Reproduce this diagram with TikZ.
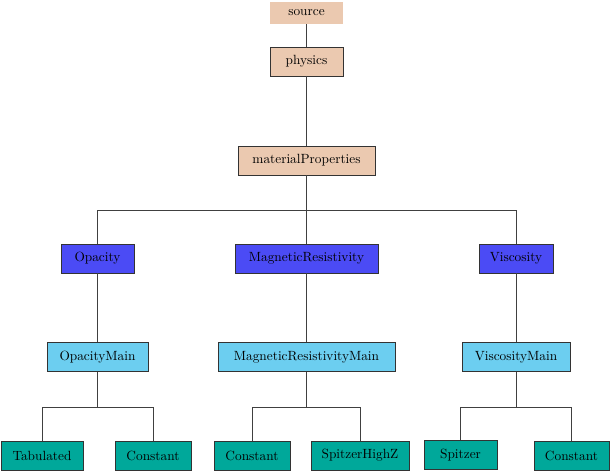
\documentclass[tikz,border=0pt]{standalone}
\begin{document}
\begin{tikzpicture}[x=0.75pt,y=-0.75pt,
  box/.style={draw=black!80,line width=0.6pt,inner sep=0pt,minimum height=21.75pt,font=\normalsize},
  peach/.style={box,fill={rgb,255:red,235;green,201;blue,176}},
  blu/.style={box,fill={rgb,255:red,75;green,75;blue,245}},
  lblu/.style={box,fill={rgb,255:red,108;green,206;blue,240}},
  teal/.style={box,fill={rgb,255:red,0;green,168;blue,154}},
  ln/.style={draw=black!75,line width=0.6pt}]
\useasboundingbox (0,0) rectangle (611,472);
\node[peach,draw=none,minimum width=54.75pt,minimum height=16.5pt] (src) at (306.5,13) {source};
\node[peach,minimum width=54.75pt] (phy) at (306.5,61.5) {physics};
\node[peach,minimum width=102.75pt] (mp) at (306.5,160.5) {materialProperties};
\node[blu,minimum width=54.75pt] (op) at (97.5,258.5) {Opacity};
\node[blu,minimum width=107.25pt] (mr) at (306.5,258.5) {MagneticResistivity};
\node[blu,minimum width=55.5pt] (vi) at (516,258.5) {Viscosity};
\node[lblu,minimum width=75.75pt] (opm) at (97.5,357) {OpacityMain};
\node[lblu,minimum width=132.75pt] (mrm) at (306.5,357) {MagneticResistivityMain};
\node[lblu,minimum width=81pt] (vim) at (516,357) {ViscosityMain};
\node[teal,minimum width=61.5pt] (t1) at (42,455.5) {Tabulated};
\node[teal,minimum width=57pt] (c1) at (153,455.5) {Constant};
\node[teal,minimum width=57pt] (c2) at (252,455.5) {Constant};
\node[teal,minimum width=73.5pt] (sh) at (360,455.5) {SpitzerHighZ};
\node[teal,minimum width=54.75pt] (sp) at (460.5,455) {Spitzer};
\node[teal,minimum width=56.25pt] (c3) at (571.5,455.5) {Constant};
\coordinate (bus) at (0,210);
\coordinate (b2) at (0,407);
\draw[ln] (src) -- (phy);
\draw[ln] (phy) -- (mp);
\draw[ln] (mp.south) -- (mp.south |- bus);
\draw[ln] (op.north) -- (op.north |- bus) -- (vi.north |- bus) -- (vi.north);
\draw[ln] (mr.north) -- (mr.north |- bus);
\draw[ln] (op) -- (opm);
\draw[ln] (mr) -- (mrm);
\draw[ln] (vi) -- (vim);
\foreach \m/\a/\b in {opm/t1/c1,mrm/c2/sh,vim/sp/c3}{
  \draw[ln] (\m.south) -- (\m.south |- b2);
  \draw[ln] (\a.north) -- (\a.north |- b2) -- (\b.north |- b2) -- (\b.north);
}
\end{tikzpicture}
\end{document}
